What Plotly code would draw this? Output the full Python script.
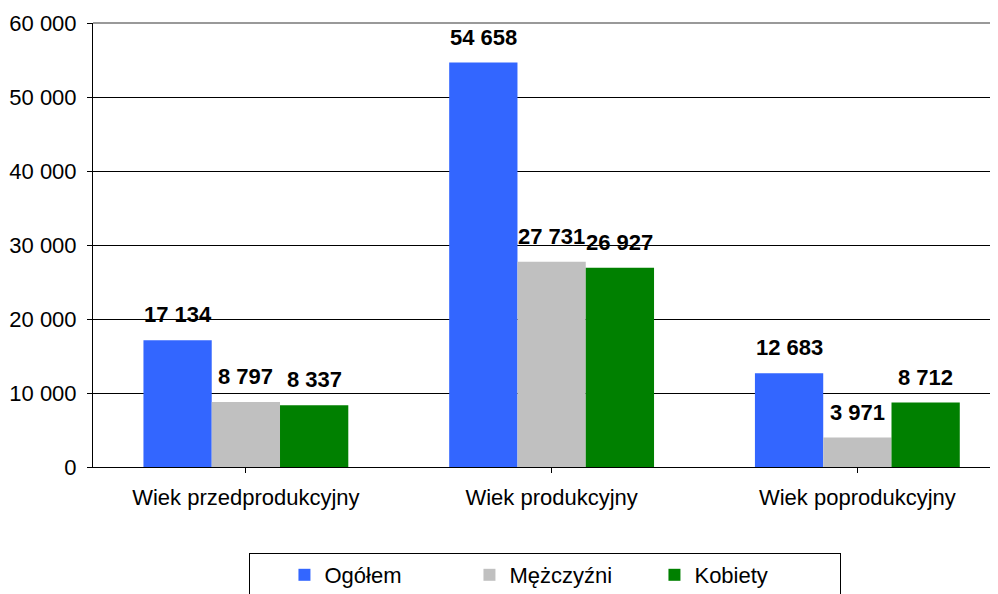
import plotly.graph_objects as go

categories = ["Wiek przedprodukcyjny", "Wiek produkcyjny", "Wiek poprodukcyjny"]
series_names = ["Ogółem", "Mężczyźni", "Kobiety"]
ogolem = [17134, 54658, 12683]
mezczyzni = [8797, 27731, 3971]
kobiety = [8337, 26927, 8712]
colors = ["#3366FF", "#C0C0C0", "#008000"]
y_ticks = [0, 10000, 20000, 30000, 40000, 50000, 60000]

FONT = "Liberation Sans, Arial, sans-serif"

def fmt(v):
    return f"{v:,}".replace(",", " ")

fig = go.Figure()
all_series = [ogolem, mezczyzni, kobiety]
for name, vals, col in zip(series_names, all_series, colors):
    fig.add_trace(go.Bar(
        x=list(range(len(categories))), y=vals, name=name,
        marker=dict(color=col, line=dict(width=0)),
    ))

# data labels as annotations centred over each bar
group_width = 0.67
bar_w = group_width / len(all_series)
for si, vals in enumerate(all_series):
    off = (si - (len(all_series) - 1) / 2) * bar_w
    for ci, v in enumerate(vals):
        fig.add_annotation(x=ci + off, y=v, text=fmt(v), showarrow=False,
                           yanchor="bottom", yshift=11,
                           font=dict(family=FONT, size=22, color="black", weight="bold"))

fig.add_shape(type="line", xref="paper", yref="paper", x0=0, x1=1, y0=1, y1=1,
              line=dict(color="#999999", width=2))

# page body has an 8px margin, so the figure is drawn 8px smaller and offset
fig.update_layout(
    width=990, height=586,
    margin=dict(l=85, r=0, t=15, b=127, autoexpand=False),
    paper_bgcolor="white", plot_bgcolor="white",
    barmode="group", bargap=0.33, bargroupgap=0,
    font=dict(family=FONT, size=22, color="black"),
    showlegend=True,
    legend=dict(orientation="h", x=(249 - 93) / 905, xanchor="left",
                y=(467 - 553) / 444, yanchor="top",
                bordercolor="black", borderwidth=1,
                entrywidth=140, entrywidthmode="pixels",
                title=dict(text="\u00a0\u00a0\u00a0\u00a0", font=dict(size=22)),
                font=dict(family=FONT, size=22, color="black"),
                traceorder="normal"),
    xaxis=dict(
        tickmode="array", tickvals=list(range(len(categories))), ticktext=categories,
        range=[-0.5, 2.46], showgrid=False, zeroline=False,
        showline=True, linecolor="black", linewidth=1,
        ticks="outside", ticklen=5, tickcolor="black",
        tickfont=dict(family=FONT, size=22, color="black"),
        ticklabelstandoff=6,
    ),
    yaxis=dict(
        range=[0, 60000], tickvals=y_ticks,
        ticktext=[fmt(t) for t in y_ticks],
        showgrid=True, gridcolor="black", gridwidth=1,
        zeroline=False, showline=True, linecolor="black", linewidth=1,
        ticks="outside", ticklen=5, tickcolor="black",
        tickfont=dict(family=FONT, size=22, color="black"),
        ticklabelstandoff=6,
    ),
)

fig.write_html("out.html")
